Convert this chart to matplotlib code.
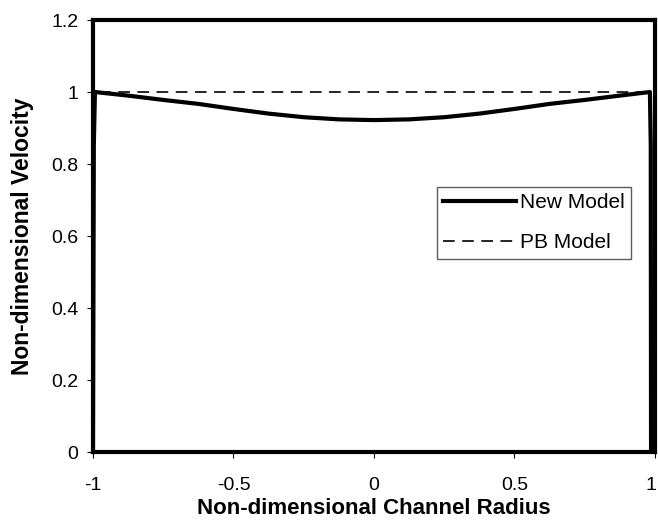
import matplotlib.pyplot as plt
from matplotlib.transforms import ScaledTranslation

plt.rcParams['font.family'] = ['Liberation Sans', 'DejaVu Sans']

# values
radius = [-1.0, -0.997, -0.993, -0.875, -0.75, -0.625, -0.5, -0.375, -0.25,
          -0.125, 0.0, 0.125, 0.25, 0.375, 0.5, 0.625, 0.75, 0.875,
          0.982, 0.985, 0.986]
new_model = [0.0, 0.85, 1.0, 0.99, 0.978, 0.967, 0.953, 0.94, 0.93,
             0.924, 0.922, 0.924, 0.93, 0.94, 0.953, 0.967, 0.978, 0.99,
             1.0, 0.85, 0.0]
pb_radius = [-1.0, -0.997, -0.993, 0.982, 0.985, 0.986]
pb_model = [0.0, 0.85, 1.0, 1.0, 0.85, 0.0]

xticks = [-1, -0.5, 0, 0.5, 1]
xticklabels = ["-1", "-0.5", "0", "0.5", "1"]
yticks = [0, 0.2, 0.4, 0.6, 0.8, 1, 1.2]
yticklabels = ["0", "0.2", "0.4", "0.6", "0.8", "1", "1.2"]


def main():
    fig = plt.figure(figsize=(6.58, 5.21), dpi=100)
    ax = fig.add_axes([0.1413, 0.1324, 0.8541, 0.8292])

    ax.plot(pb_radius, pb_model, color="black", lw=1.2, ls=(0, (7, 4.5)),
            label="PB Model")
    ax.plot(radius, new_model, color="black", lw=3.0, label="New Model")

    ax.set_xlim(-1, 1)
    ax.set_ylim(0, 1.2)
    ax.set_xticks(xticks)
    ax.set_xticklabels(xticklabels)
    ax.set_yticks(yticks)
    ax.set_yticklabels(yticklabels)
    ax.tick_params(direction="out", length=4, width=0.8, labelsize=14)
    ax.tick_params(axis="x", pad=14)
    ax.tick_params(axis="y", pad=6.5)

    # last x label sits at the figure edge, nudge it in a little
    last = ax.get_xticklabels()[-1]
    last.set_transform(last.get_transform()
                       + ScaledTranslation(-3 / 72, 0, fig.dpi_scale_trans))

    for side in ax.spines.values():
        side.set_linewidth(3)

    ax.set_xlabel("Non-dimensional Channel Radius", fontsize=16,
                  fontweight="bold", labelpad=3)
    ax.set_ylabel("Non-dimensional Velocity", fontsize=16.5,
                  fontweight="bold", labelpad=12)

    handles, labels = ax.get_legend_handles_labels()
    leg = ax.legend(handles[::-1], labels[::-1], loc="upper left",
                    bbox_to_anchor=(0.612, 0.613), borderaxespad=0,
                    fontsize=15, frameon=True, fancybox=False,
                    edgecolor="#333333", handlelength=3.5,
                    handletextpad=0.2, borderpad=0.3, labelspacing=1.0)
    leg.get_frame().set_linewidth(1.0)

    fig.savefig("out.png", dpi=100)


if __name__ == "__main__":
    main()
